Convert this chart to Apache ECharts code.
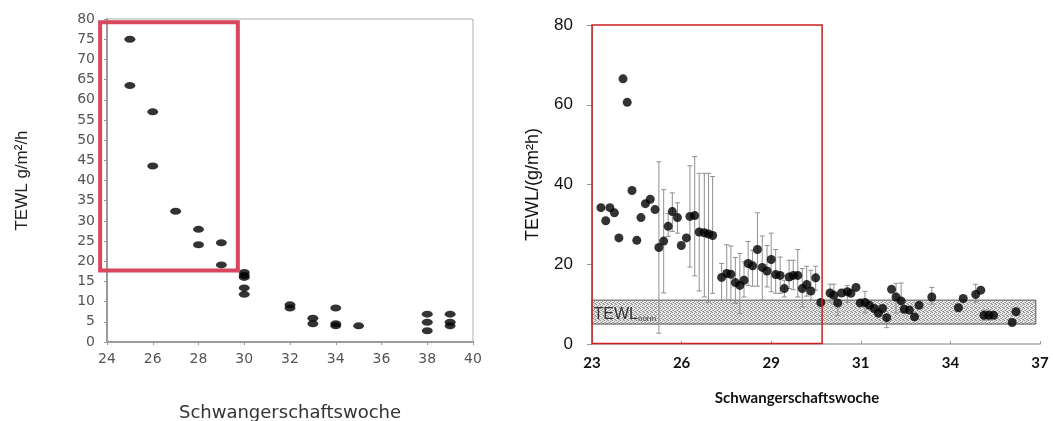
<!DOCTYPE html>
<html>
<head>
<meta charset="utf-8">
<script src="https://cdn.jsdelivr.net/npm/echarts@6/dist/echarts.min.js"></script>
<style>
html,body{margin:0;padding:0;background:#fff;}
#c{width:1053px;height:421px;}
</style>
</head>
<body>
<div id="c"></div>
<script>
// ---------- Left chart data ----------
const leftWeeks = [25, 25, 26, 26, 27, 28, 28, 29, 29, 30, 30, 30, 30, 30, 32, 32, 33, 33, 34, 34, 34, 35, 38, 38, 38, 39, 39, 39];
const leftTEWL  = [75, 63.5, 57, 43.6, 32.4, 27.9, 24.1, 24.6, 19.1, 17.2, 16.5, 16.0, 13.4, 11.8, 9.2, 8.4, 5.9, 4.5, 8.4, 4.5, 4.0, 4.0, 6.9, 4.9, 2.8, 6.9, 4.9, 4.0];
const leftXTicks = [24, 26, 28, 30, 32, 34, 36, 38, 40];

// ---------- Right chart data ----------
const rightWeeks = [23.28, 23.43, 23.56, 23.70, 23.84, 23.97, 24.10, 24.25, 24.40, 24.53, 24.67, 24.82, 24.97,
  25.09, 25.24, 25.38, 25.51, 25.67, 25.79, 25.95, 26.06, 26.21, 26.35, 26.51, 26.64, 26.77,
  27.05, 27.21, 27.34, 27.48, 27.62, 27.75, 27.88, 28.02, 28.17, 28.32, 28.47, 28.60, 28.74, 28.88,
  29.01, 29.16, 29.29, 29.43, 29.57, 29.71, 29.84, 29.99, 30.15, 30.44, 30.56, 30.68, 30.80, 30.98,
  31.09, 31.25, 31.38, 31.53, 31.67, 31.82, 31.95, 32.08, 32.21, 32.36, 32.50, 32.66, 32.76, 32.92,
  33.08, 33.22, 33.62, 34.45, 34.60, 34.99, 35.15, 35.25, 35.40, 35.55, 36.13, 36.25];
const rightTEWL = [34.2, 30.9, 34.2, 32.9, 26.6, 66.5, 60.6, 38.5, 26.0, 31.7, 35.2, 36.3, 33.7,
  24.2, 25.8, 29.5, 33.2, 31.7, 24.7, 26.6, 32.0, 32.2, 28.1, 27.9, 27.6, 27.2,
  16.7, 17.7, 17.5, 15.4, 14.7, 16.0, 20.2, 19.6, 23.7, 19.2, 18.3, 21.2, 17.4, 17.2,
  13.9, 16.8, 17.2, 17.2, 13.9, 14.9, 13.3, 16.6, 10.4, 12.8, 12.2, 10.3, 12.8, 13.1,
  12.7, 14.2, 10.3, 10.4, 9.7, 8.9, 7.7, 8.9, 6.6, 13.7, 11.8, 10.8, 8.7, 8.5,
  6.8, 9.7, 11.8, 9.1, 11.4, 12.4, 13.5, 7.2, 7.2, 7.2, 5.4, 8.1];
const rightLow = [null, null, null, null, null, null, null, null, null, null, null, null, null,
  2.7, 12.8, 27.0, 28.2, 27.8, null, null, 19.3, 17.1, 13.3, 11.8, 10.5, 12.7,
  11.0, 11.0, 11.0, 10.2, 7.7, 11.8, 14.7, 14.5, 14.5, 11.0, 14.3, 13.1, 12.7, 12.7,
  11.8, 13.9, 13.6, 11.8, 9.3, 12.0, 11.0, 13.5, null, 10.5, 10.0, 7.2, null, 10.5,
  null, null, null, 7.8, null, null, null, null, 4.1, null, 7.8, 8.0, null, null,
  null, null, 10.0, null, null, 10.5, null, 6.0, 6.0, null, null, null];
const rightHigh = [null, null, null, null, null, null, null, null, null, null, null, null, null,
  45.7, 38.7, 32.7, 37.9, 35.4, null, null, 44.7, 47.0, 42.8, 42.8, 42.8, 42.0,
  20.2, 24.9, 24.6, 21.7, 22.7, 20.6, 25.7, 23.5, 32.9, 27.1, 24.7, 27.8, 23.7, 21.8,
  16.0, 21.0, 21.0, 23.7, 18.9, 19.5, 18.5, 19.5, null, 15.0, 15.0, null, null, 14.7,
  null, null, null, 13.2, null, null, null, null, null, null, 15.2, 15.3, null, null,
  null, null, 14.2, null, null, 15.0, null, 8.5, 8.5, null, null, null];
const rightXTickPos = [23, 25.8, 28.6, 31.4, 34.2, 37];
const rightXTickLabels = ['23', '26', '29', '31', '34', '37'];
const normBand = [5, 11];          // TEWL norm range (g/m²h)
const normBandWeeks = [23, 36.87];

// Highlight boxes (data coordinates)
const leftBox = { x: [23.7, 29.72], y: [17.7, 79.2] };
const rightBox = { x: [23, 30.19], y: [0.1, 80] };

// ---------- Build ----------
const leftData = leftWeeks.map((w, i) => [w, leftTEWL[i]]);
const rightData = rightWeeks.map((w, i) => [w, rightTEWL[i]]);
const errData = [];
rightWeeks.forEach((w, i) => {
  const lo = rightLow[i], hi = rightHigh[i];
  if (lo == null && hi == null) return;
  errData.push([w, lo == null ? rightTEWL[i] : lo, hi == null ? rightTEWL[i] : hi, lo != null ? 1 : 0, hi != null ? 1 : 0]);
});

// stipple pattern for the norm band
const pc = document.createElement('canvas');
pc.width = 4; pc.height = 4;
const pctx = pc.getContext('2d');
pctx.fillStyle = '#ececec'; pctx.fillRect(0, 0, 4, 4);
pctx.fillStyle = '#8a8a8a';
pctx.fillRect(0, 0, 1, 1); pctx.fillRect(2, 1, 1, 1); pctx.fillRect(1, 2, 1, 1); pctx.fillRect(3, 3, 1, 1);
pctx.fillStyle = '#b4b4b4';
pctx.fillRect(2, 3, 1, 1); pctx.fillRect(0, 2, 1, 1); pctx.fillRect(3, 0, 1, 1);

const chart = echarts.init(document.getElementById('c'), null, { renderer: 'canvas' });

const option = {
  backgroundColor: '#fff',
  animation: false,
  grid: [
    { left: 107, top: 19, width: 366, height: 323, outerBoundsMode: 'none', containLabel: false, show: true, borderColor: '#b0b0b0', borderWidth: 1, backgroundColor: 'transparent' },
    { left: 592, top: 25, width: 448, height: 319, outerBoundsMode: 'none', containLabel: false }
  ],
  xAxis: [
    {
      gridIndex: 0, type: 'value', min: 24, max: 40, interval: 2,
      name: 'Schwangerschaftswoche', nameLocation: 'middle', nameGap: 62,
      nameTextStyle: { fontFamily: 'DejaVu Sans', fontSize: 18, color: '#333' },
      axisLine: { show: true, lineStyle: { color: '#9a9a9a', width: 2 } },
      axisTick: { show: true, length: 3, lineStyle: { color: '#999' } },
      axisLabel: { fontFamily: 'DejaVu Sans', fontSize: 14, color: '#555', margin: 10 },
      splitLine: { show: false }
    },
    {
      gridIndex: 1, type: 'value', min: 23, max: 37,
      name: 'Schwangerschaftswoche', nameLocation: 'middle', nameGap: 47,
      nameTextStyle: { fontFamily: 'Lato', fontWeight: 'bold', fontSize: 15, color: '#111', padding: [0, 38, 0, 0] },
      axisLine: { show: true, lineStyle: { color: '#aaa', width: 1.5 } },
      axisTick: { show: true, inside: true, length: 3, customValues: rightXTickPos, lineStyle: { color: '#999' } },
      axisLabel: {
        customValues: rightXTickPos, fontFamily: 'Lato', fontWeight: 'bold', fontSize: 15, color: '#111', margin: 12,
        formatter: function (v) {
          let best = 0;
          rightXTickPos.forEach((p, i) => { if (Math.abs(p - v) < Math.abs(rightXTickPos[best] - v)) best = i; });
          return rightXTickLabels[best];
        }
      },
      splitLine: { show: false }
    }
  ],
  yAxis: [
    {
      gridIndex: 0, type: 'value', min: 0, max: 80, interval: 5,
      name: 'TEWL g/m²/h', nameLocation: 'middle', nameGap: 76, nameRotate: 90,
      nameTextStyle: { fontFamily: 'Liberation Sans', fontSize: 17, color: '#222' },
      axisLine: { show: true, lineStyle: { color: '#9a9a9a', width: 2 } },
      axisTick: { show: true, length: 3, lineStyle: { color: '#999' } },
      axisLabel: { fontFamily: 'DejaVu Sans', fontSize: 14, color: '#555', margin: 12 },
      splitLine: { show: false }
    },
    {
      gridIndex: 1, type: 'value', min: 0, max: 80, interval: 20,
      name: 'TEWL/(g/m²h)', nameLocation: 'middle', nameGap: 50, nameRotate: 90,
      nameTextStyle: { fontFamily: 'Liberation Sans', fontSize: 18, color: '#111' },
      axisLine: { show: true, lineStyle: { color: '#aaa', width: 1 } },
      axisTick: { show: true, length: 5, lineStyle: { color: '#999' } },
      axisLabel: { fontFamily: 'Liberation Sans', fontSize: 17, color: '#111', margin: 19 },
      splitLine: { show: false }
    }
  ],
  series: [
    {
      type: 'scatter', xAxisIndex: 0, yAxisIndex: 0, data: leftData,
      symbol: 'circle', symbolSize: [11, 7], itemStyle: { color: '#000' }, z: 3
    },
    {
      type: 'scatter', xAxisIndex: 1, yAxisIndex: 1, data: [], z: 1, silent: true,
      markArea: {
        silent: true,
        itemStyle: { color: { image: pc, repeat: 'repeat' }, borderColor: '#555', borderWidth: 1 },
        label: {
          show: true, position: 'insideLeft', distance: 2,
          formatter: '{a|TEWL}{b|norm}',
          rich: {
            a: { fontFamily: 'Liberation Sans', fontSize: 16, color: '#333', verticalAlign: 'bottom' },
            b: { fontFamily: 'Liberation Sans', fontSize: 8, color: '#444', padding: [13, 0, 0, 0], verticalAlign: 'bottom' }
          }
        },
        data: [[{ xAxis: normBandWeeks[0], yAxis: normBand[0] }, { xAxis: normBandWeeks[1], yAxis: normBand[1] }]]
      }
    },
    {
      type: 'custom', xAxisIndex: 1, yAxisIndex: 1, data: errData, z: 2, silent: true,
      renderItem: function (params, api) {
        const x = api.value(0);
        const lo = api.coord([x, api.value(1)]);
        const hi = api.coord([x, api.value(2)]);
        const cap = 2.5;
        const st = { stroke: '#909090', lineWidth: 1 };
        const children = [
          { type: 'line', shape: { x1: lo[0], y1: lo[1], x2: hi[0], y2: hi[1] }, style: st }
        ];
        if (api.value(4)) children.push({ type: 'line', shape: { x1: hi[0] - cap, y1: hi[1], x2: hi[0] + cap, y2: hi[1] }, style: st });
        if (api.value(3)) children.push({ type: 'line', shape: { x1: lo[0] - cap, y1: lo[1], x2: lo[0] + cap, y2: lo[1] }, style: st });
        return { type: 'group', children: children };
      }
    },
    {
      type: 'scatter', xAxisIndex: 1, yAxisIndex: 1, data: rightData,
      symbol: 'circle', symbolSize: 9, itemStyle: { color: '#000' }, z: 3
    }
  ]
};
chart.setOption(option);

function boxGraphic(gridIdx, box, color, lw) {
  const p1 = chart.convertToPixel({ xAxisIndex: gridIdx, yAxisIndex: gridIdx }, [box.x[0], box.y[1]]);
  const p2 = chart.convertToPixel({ xAxisIndex: gridIdx, yAxisIndex: gridIdx }, [box.x[1], box.y[0]]);
  return {
    type: 'rect', z: 100, silent: true,
    shape: { x: p1[0], y: p1[1], width: p2[0] - p1[0], height: p2[1] - p1[1] },
    style: { fill: 'none', stroke: color, lineWidth: lw }
  };
}
chart.setOption({
  graphic: [
    boxGraphic(0, leftBox, '#d9475e', 4),
    boxGraphic(1, rightBox, '#cc1f1f', 1.5)
  ]
});
</script>
</body>
</html>
